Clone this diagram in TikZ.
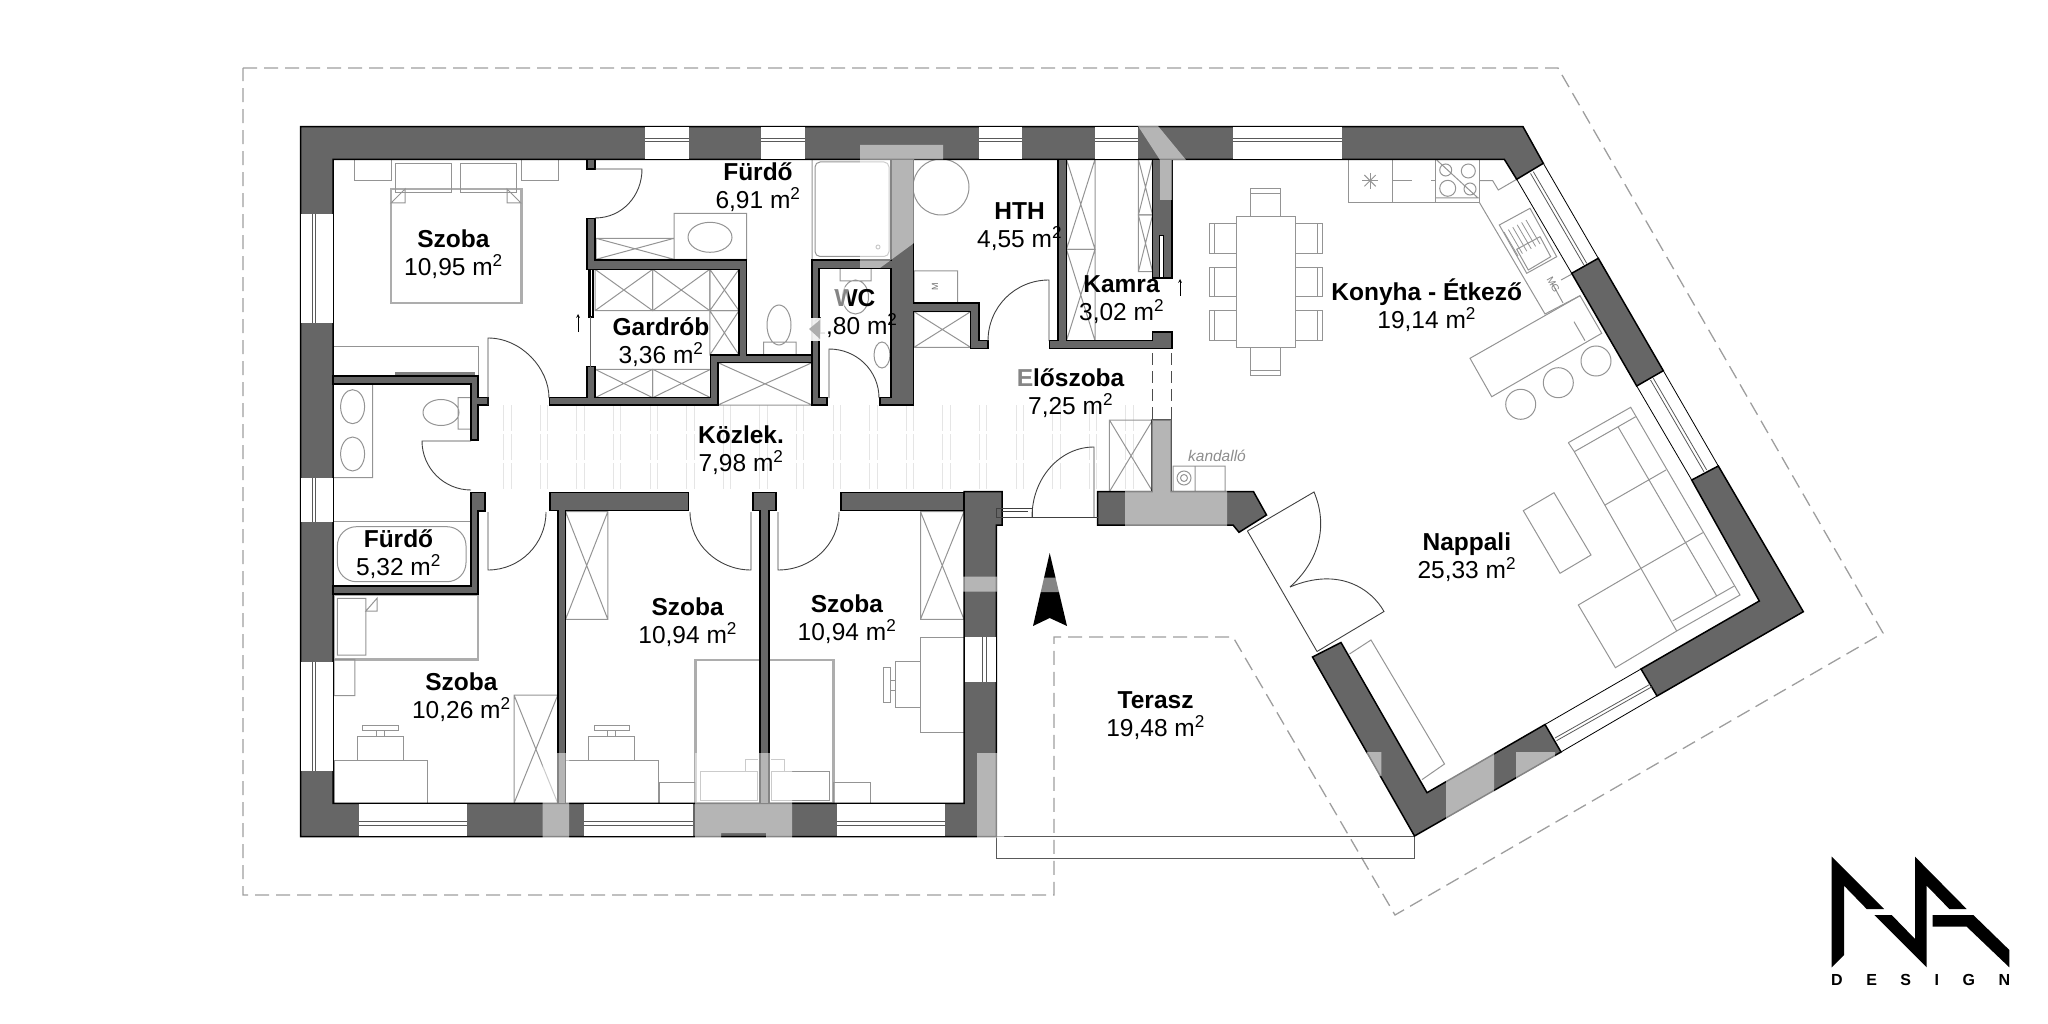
\documentclass[tikz,border=0pt]{standalone}
\usepackage{fontspec}
\setmainfont{Liberation Sans}
\newcommand{\roomtext}[2]{\textbf{#1}\\#2 m\textsuperscript{2}}
\begin{document}
\begin{tikzpicture}[x=1pt,y=-1pt,
	wall/.style={fill=black!60,draw=black,line width=1.5pt,line join=miter},
	furn/.style={draw=black!42,line width=1pt},
	bedline/.style={draw=black!32,line width=2.4pt},
	doorline/.style={draw=black!75,line width=.9pt},
	dashline/.style={draw=black!38,line width=1.3pt,dash pattern=on 14pt off 7pt},
	ghost/.style={fill=white,opacity=.52},
	roomlabel/.style={align=center,inner sep=0pt,font=\fontsize{24.5}{28}\selectfont}]
	\useasboundingbox (0,0) rectangle (2048,1024);
	% ghost bars of the corridor
	\foreach \i in {0,...,17}
		\draw[draw=black!10,line width=.9pt,dash pattern=on 26pt off 3pt] (503.7+36.6*\i,405) -- (503.7+36.6*\i,492) (511+36.6*\i,405) -- (511+36.6*\i,492);
	% outline and terrace
	\draw[dashline] (243,68) -- (1558,68) -- (1883,633) -- (1395,915) -- (1233,637) -- (1054,637) -- (1054,895) -- (243,895) -- cycle;
	\draw[draw=black!65,line width=1pt] (996,753) -- (996,858) -- (1414.5,858) -- (1414.5,836.7) -- (996,836.7);
	% bedrooms furniture
	\draw[bedline] (391,189.3) rectangle (521.6,303.3);
	\draw[furn] (395.5,163.3) rectangle (451.4,193) (460,163.3) rectangle (516.7,193) (354.7,159.3) rectangle (391,180.7) (521.6,159.3) rectangle (558.4,180.7);
	\draw[furn] (391,203) -- (405,189) -- (405,203) -- cycle (521,203) -- (507,189) -- (507,203) -- cycle;
	\draw[furn] (333,346.7) rectangle (478.8,376);
	\draw[draw=black!50,line width=3pt] (395,373) -- (475,373);
	\draw[bedline] (334,595) rectangle (478,659.3);
	\draw[furn] (337.4,598.3) rectangle (365.9,655) (365.9,611) -- (377,598.3) -- (377,611) -- cycle (334,659.3) rectangle (354.8,695.7);
	\draw[furn] (514,695) rectangle (557.8,803.3) (514,803.3) -- (557.8,695) (514,695) -- (557.8,803.3);
	\foreach \dx in {0,231.6}{
		\draw[furn] (334+\dx,760.7) rectangle (427+\dx,803.3) (357+\dx,736) rectangle (403+\dx,760.7) (362.6+\dx,725) rectangle (398+\dx,730.7) (376+\dx,730.7) rectangle (384+\dx,736);
	}
	\draw[furn] (565.6,511.7) rectangle (607.8,619.3) (565.6,619.3) -- (607.8,511.7) (565.6,511.7) -- (607.8,619.3);
	\draw[bedline] (695.5,660) rectangle (759.8,803.3) (769,660) rectangle (833.3,803.3);
	\draw[furn] (700,771.7) rectangle (757.5,800.7) (771,771.7) rectangle (829,800.7) (659.7,782.3) rectangle (695.5,803.3) (833.3,782.3) rectangle (870,803.3);
	\draw[furn] (745,771.7) -- (745,759) -- (758,759) (784,771.7) -- (784,759) -- (771,759);
	\draw[furn] (920.5,511.7) rectangle (964,619.3) (920.5,619.3) -- (964,511.7) (920.5,511.7) -- (964,619.3);
	\draw[furn] (920.5,637.7) rectangle (964,732.3) (895,661.7) rectangle (920.5,707.7) (883.8,667) rectangle (890.6,702) (890.6,680) rectangle (895,690);
	% bath furniture
	\draw[furn] (333,521) -- (470,521);
	\draw[furn,rounded corners=19pt] (337.4,526.7) rectangle (466,581.7);
	\draw[furn] (333,384) rectangle (372.7,477.7) (352.6,406.7) ellipse (12 and 17) (352.6,454) ellipse (12 and 17);
	\draw[furn] (441,412.5) ellipse (18 and 13) (458,397.7) rectangle (470.6,429);
	\draw[furn] (596,238.3) rectangle (674,259.3) (596,238.3) -- (674,259.3) (596,259.3) -- (674,238.3) (674,213.3) rectangle (746.5,259.3);
	\draw[furn] (710,237.3) ellipse (22 and 15);
	\draw[furn] (779,325) ellipse (12 and 20) (763.7,342) rectangle (796,355);
	\draw[furn,rounded corners=5pt] (815,162) rectangle (889,256.5);
	\draw[furn] (812,159.3) rectangle (892,260) (878,247) circle (2);
	\draw[furn] (840,268.5) rectangle (871,281) (855.5,297) ellipse (13 and 17);
	\draw[furn] (882,355) ellipse (8 and 13);
	% wardrobes
	\foreach \xa/\xb/\ya/\yb in {595/652.7/269.3/310.7,652.7/709.8/269.3/310.7,709.8/739/269.3/310.7,709.8/739/310.7/355,595/652.7/369.3/397.7,652.7/710.6/369.3/397.7,718/812/362.7/405,914/970.6/311.7/347.3,1066.5/1095/159.3/249.3,1066.5/1095/249.3/340.7,1138.4/1152.6/159.3/215,1138.4/1152.6/215/271.7,1109.4/1152.7/420/491.7}
		\draw[furn] (\xa,\ya) rectangle (\xb,\yb) (\xa,\ya) -- (\xb,\yb) (\xa,\yb) -- (\xb,\ya);
	% technical room
	\draw[furn] (941,187) circle (28) (914,271) rectangle (957.5,303.3);
	\node[rotate=90,text=black!55,font=\fontsize{9}{9}\selectfont,inner sep=0pt] (hthmark) at (935,287) {M};
	\draw[furn] (1173,466) rectangle (1225,491.7) (1173,466) rectangle (1195,491.7) (1184,478) circle (7) (1184,478) circle (3.5);
	\node[text=black!45,font=\itshape\fontsize{15.5}{16}\selectfont,inner sep=0pt] (fireplace) at (1217,456) {kandalló};
	% dining table
	\draw[furn] (1236.3,216.7) rectangle (1295,347.3) (1250,189) rectangle (1280,216.7) (1250,194) -- (1280,194) (1250,347.3) rectangle (1280,375) (1250,370) -- (1280,370);
	\foreach \ya in {224,267.3,310.7}{
		\draw[furn] (1209.4,\ya) rectangle (1236.3,\ya+29.3) (1214,\ya) -- (1214,\ya+29.3) (1295,\ya) rectangle (1322,\ya+29.3) (1317.5,\ya) -- (1317.5,\ya+29.3);
	}
	% kitchen
	\draw[furn] (1348.3,160) rectangle (1479.3,202.3) (1392.3,160) -- (1392.3,202.3) (1435.7,160) -- (1435.7,202.3) (1392,180.7) -- (1412,180.7) (1431,180.7) -- (1436,180.7);
	\foreach \a in {0,45,90,135}
		\draw[furn] (1370,180.7) ++(\a:8) -- ++(\a+180:16);
	\draw[furn] (1445.7,170) circle (6) (1468.3,171) circle (7) (1447.7,188.3) circle (8) (1470,189) circle (6) (1436.7,160) -- (1478,198) (1436,198) -- (1479,198);
	\draw[furn] (1479.3,180.7) -- (1492.7,180.7) -- (1498.3,190) -- (1516.7,179.3);
	\draw[furn] (1479.3,202.3) -- (1545,314) -- (1580,295.7);
	\draw[furn] (1499.3,225) -- (1530,208.3) -- (1556.7,256.7) -- (1526.7,273.3) -- cycle (1516.7,249.3) -- (1540,236.7) -- (1550.7,256.7) -- (1528.3,270) -- cycle;
	\foreach \t in {0,1,...,5}
		\draw[draw=black!42,line width=.8pt] (1504+4.4*\t,232-2.4*\t) -- (1518+4.4*\t,256-2.4*\t);
	\draw[furn] (1561,280) -- (1572,274) (1563,303) -- (1552,283);
	\node[rotate=-60,text=black!50,font=\fontsize{10}{10}\selectfont,inner sep=0pt] (fridgemark) at (1553.3,285) {MG};
	\draw[furn] (1470,358.3) -- (1580,295.7) -- (1601.7,333.3) -- (1491.7,396.7) -- cycle (1574,321.7) -- (1585,340.7);
	\draw[furn] (1596,361) circle (15) (1558.3,382.7) circle (15) (1520.7,404.3) circle (15);
	% living room
	\draw[furn] (1568.3,442.7) -- (1630.7,407.3) -- (1740,595) -- (1676.7,631) -- (1615.4,667.7) -- (1578.3,605) -- (1641,568.3) -- (1702.7,532.7);
	\draw[furn] (1568.3,442.7) -- (1574.3,451.7) -- (1635.7,416.7) (1574.3,451.7) -- (1676.7,631) (1672.7,621) -- (1734.3,586) (1618.3,427.3) -- (1716.7,596) (1605,505) -- (1666,470);
	\draw[furn] (1523.3,510.7) -- (1554,492.7) -- (1591,555) -- (1560,573.3) -- cycle;
	\draw[furn] (1349.5,654) -- (1371,640) -- (1444.5,764) -- (1422,779.6);
	% outer walls
	\draw[wall] (300.5,126.7) -- (1523,126.7) -- (1543.3,163.3) -- (1516.7,179.3) -- (1504.3,159.3) -- (333,159.3) -- (333,803.3) -- (964,803.3) -- (964,491.7) -- (1002,491.7) -- (1002,525) -- (996.3,525) -- (996.3,836.7) -- (300.5,836.7) -- cycle;
	\draw[wall] (1598.3,258.3) -- (1663.3,370.7) -- (1636.7,386) -- (1571.7,273.3) -- cycle;
	\draw[wall] (1718.3,466) -- (1803.3,611.7) -- (1657,696) -- (1641,669) -- (1759.3,601) -- (1691.7,480) -- cycle;
	\draw[wall] (1561,752) -- (1414.5,836) -- (1312.5,657) -- (1341,642.5) -- (1427,792.7) -- (1545,724.5) -- cycle;
	% windows
	\foreach \xa/\xb in {644.5/689,761/804.5,979/1022,1095/1138,1233/1341.7}{
		\fill[white] (\xa,126) rectangle (\xb,160);
		\draw[line width=.8pt] (\xa,126.7) -- (\xb,126.7) (\xa,159.3) -- (\xb,159.3);
		\draw[draw=black!65,line width=.8pt] (\xa,138) -- (\xb,138) (\xa,141) -- (\xb,141);
	}
	\foreach \xa/\xb in {359/467,584.4/693,836.5/945}{
		\fill[white] (\xa,803) rectangle (\xb,837.4);
		\draw[line width=.8pt] (\xa,803.3) -- (\xb,803.3) (\xa,836.7) -- (\xb,836.7);
		\draw[draw=black!65,line width=.8pt] (\xa,821.5) -- (\xb,821.5) (\xa,825) -- (\xb,825);
	}
	\foreach \ya/\yb in {214.3/322.7,478/521.7,661.7/770.7}{
		\fill[white] (300,\ya) rectangle (333.6,\yb);
		\draw[line width=.8pt] (300.5,\ya) -- (300.5,\yb) (333,\ya) -- (333,\yb);
		\draw[draw=black!65,line width=.8pt] (312,\ya) -- (312,\yb) (315,\ya) -- (315,\yb);
	}
	\fill[white] (963.5,636.7) rectangle (997,681.7);
	\draw[line width=.8pt] (964,636.7) -- (964,681.7) (996.3,636.7) -- (996.3,681.7);
	\draw[draw=black!65,line width=.8pt] (982.5,636.7) -- (982.5,681.7) (986,636.7) -- (986,681.7);
	\draw[line width=.8pt] (1543.3,163.3) -- (1598.3,258.3) (1516.7,179.3) -- (1571.7,273.3) (1663.3,370.7) -- (1718.3,466) (1636.7,386) -- (1691.7,480) (1657,696) -- (1561,752) (1641,669) -- (1545,724.5);
	\draw[draw=black!65,line width=.8pt] (1533.3,171.7) -- (1586.7,263.3) (1530.5,173.4) -- (1583.9,265) (1653.3,378.3) -- (1706.7,470) (1650.5,380) -- (1703.9,471.7) (1650.5,684) -- (1555,738) (1652,686.7) -- (1556.5,740.7);
	% inner walls
	\draw[wall] (333,376) -- (478,376) -- (478,397.7) -- (488,397.7) -- (488,405) -- (478,405) -- (478,440) -- (471,440) -- (471,384) -- (333,384) -- cycle;
	\draw[wall] (471,492.3) -- (485,492.3) -- (485,511) -- (478,511) -- (478,594) -- (333,594) -- (333,586) -- (471,586) -- cycle;
	\draw[wall] (587,159.3) -- (595,159.3) -- (595,169) -- (587,169) -- cycle;
	\draw[wall] (587,218.3) -- (595,218.3) -- (595,260) -- (746.5,260) -- (746.5,355) -- (812,355) -- (812,362.7) -- (718,362.7) -- (718,405) -- (549.4,405) -- (549.4,397.7) -- (587,397.7) -- (587,366.7) -- (595,366.7) -- (595,397.7) -- (710.6,397.7) -- (710.6,355) -- (739,355) -- (739,269.3) -- (587,269.3) -- cycle;
	\draw[wall] (891,159.3) -- (913.5,159.3) -- (913.5,303) -- (979,303) -- (979,340.7) -- (988,340.7) -- (988,348.3) -- (970.6,348.3) -- (970.6,311.7) -- (913.5,311.7) -- (913.5,405) -- (880,405) -- (880,397.7) -- (891,397.7) -- (891,268.3) -- (819,268.3) -- (819,397.7) -- (827,397.7) -- (827,405) -- (812,405) -- (812,260) -- (891,260) -- cycle;
	\draw[wall] (1058,159.3) -- (1066.5,159.3) -- (1066.5,340.7) -- (1152.6,340.7) -- (1152.6,332) -- (1171.8,332) -- (1171.8,348.3) -- (1049.4,348.3) -- (1049.4,340.7) -- (1058,340.7) -- cycle;
	\draw[wall] (1152.6,159.3) rectangle (1171.8,278);
	\draw[draw=black,fill=white,line width=.7pt] (1159.6,235) rectangle (1163.7,277);
	\draw[wall] (1152,420) -- (1171,420) -- (1171,491.7) -- (1253.5,491.7) -- (1266.5,515) -- (1239,532.3) -- (1233,525) -- (1097.5,525) -- (1097.5,491.7) -- (1152,491.7) -- cycle;
	\draw[wall] (550,492.3) -- (688.6,492.3) -- (688.6,510.7) -- (565.6,510.7) -- (565.6,803.3) -- (557.8,803.3) -- (557.8,510.7) -- (550,510.7) -- cycle;
	\draw[wall] (753,492.3) -- (776,492.3) -- (776,510.7) -- (769,510.7) -- (769,803.3) -- (759.8,803.3) -- (759.8,510.7) -- (753,510.7) -- cycle;
	\draw[wall] (841,492.3) rectangle (964,510.7);
	% sliding doors
	\draw[fill=black,draw=black,line width=.5pt] (588.5,269.3) rectangle (593.5,317);
	\draw[draw=white,line width=.8pt] (591,270) -- (591,316);
	\draw[draw=black!60,line width=.8pt] (590.5,317) -- (590.5,366.7);
	\draw[draw=black!70,dash pattern=on 12pt off 6pt,line width=.9pt] (1152.6,353) -- (1152.6,420) (1171.4,353) -- (1171.4,420);
	\draw[->,>=stealth,line width=.7pt] (578,332) -- (578,314);
	\draw[->,>=stealth,line width=.7pt] (1180,296) -- (1180,279);
	% doors
	\draw[doorline] (595,169) -- (642,169) .. controls (642,196) and (622,218) .. (595,218);
	\draw[doorline] (488,405) -- (488,338) .. controls (521,338) and (549,368) .. (549,398);
	\draw[doorline] (471,441) -- (422,441) .. controls (422,468) and (444,490) .. (471,490);
	\draw[doorline] (488,512) -- (488,570) .. controls (520,570) and (546,544) .. (546,512);
	\draw[doorline] (751,512) -- (751,570) .. controls (718,570) and (690,544) .. (690,512);
	\draw[doorline] (778,512) -- (778,570) .. controls (812,570) and (839,544) .. (839,512);
	\draw[doorline] (829,398) -- (829,349) .. controls (857,349) and (879,371) .. (879,398);
	\draw[doorline] (1049,341) -- (1049,280) .. controls (1015,280) and (988,307) .. (988,341);
	\draw[doorline] (1094,517) -- (1094,447) .. controls (1060,447) and (1032,478) .. (1032,517);
	\draw[doorline] (996,508) rectangle (1032,517) (1032,517) -- (1097.5,517) (1002,511) -- (1028,511);
	\draw[doorline] (1247.4,531) -- (1314,492) .. controls (1328,525) and (1320,560) .. (1290,587);
	\draw[doorline] (1317,651.5) -- (1384,611.5) .. controls (1372,590) and (1340,566) .. (1290,587);
	\draw[doorline] (1247.4,531) -- (1317,651.5);
	% north arrow
	\fill[black] (1049.7,553) -- (1067,626) -- (1049.7,618) -- (1033,626) -- cycle;
	% room labels
	\node[roomlabel] (bedroomA) at (453.5,254) {\roomtext{Szoba}{10,95}};
	\node[roomlabel] (bathA) at (758,187.5) {\roomtext{Fürdő}{6,91}};
	\node[roomlabel] (wardrobe) at (661,342) {\roomtext{Gardrób}{3,36}};
	\node[roomlabel] (toilet) at (855,314) {\roomtext{WC}{1,80}};
	\node[roomlabel] (bathB) at (398.5,554) {\roomtext{Fürdő}{5,32}};
	\node[roomlabel] (bedroomB) at (461.4,697) {\roomtext{Szoba}{10,26}};
	\node[roomlabel] (bedroomC) at (687.7,622.5) {\roomtext{Szoba}{10,94}};
	\node[roomlabel] (bedroomD) at (847,619) {\roomtext{Szoba}{10,94}};
	\node[roomlabel] (corridor) at (741,450) {\roomtext{Közlek.}{7,98}};
	\node[roomlabel] (technical) at (1019.6,227) {\roomtext{HTH}{4,55}};
	\node[roomlabel] (pantry) at (1121.6,300) {\roomtext{Kamra}{3,02}};
	\node[roomlabel] (hall) at (1070.6,393) {\roomtext{Előszoba}{7,25}};
	\node[roomlabel] (kitchen) at (1426.7,305.5) {\roomtext{Konyha - Étkező}{19,14}};
	\node[roomlabel] (living) at (1466.8,557) {\roomtext{Nappali}{25,33}};
	\node[roomlabel] (terrace) at (1155.6,716) {\roomtext{Terasz}{19,48}};
	% watermark over everything
	\fill[ghost] (860,145) -- (943,145) -- (943,159.3) -- (914,159.3) -- (914,243) -- (880,268) -- (860,268) -- cycle;
	\fill[ghost] (1138,126) -- (1158,126) -- (1186,160) -- (1172,160) -- (1172,200) -- (1160,200) -- (1160,160) -- cycle;
	\fill[ghost] (1152,420) -- (1171.5,420) -- (1171.5,491) -- (1227,491) -- (1227,526) -- (1125,526) -- (1125,491) -- (1152,491) -- cycle;
	\fill[ghost] (963,576.7) rectangle (997,591.7) (977,753) rectangle (1004,838);
	\fill[ghost] (542.6,753) rectangle (569,838) (695,753) rectangle (792,833) (695,833) rectangle (721,838) (766,833) rectangle (792,838);
	\fill[ghost] (1366.7,752) rectangle (1381.4,776) (1446,752) rectangle (1494,842) (1516,752) rectangle (1555,786) (1033,577.5) rectangle (1067,592);
	\fill[ghost] (1016.7,366) rectangle (1032,391) (835,287) rectangle (848,306);
	\fill[white,opacity=.9] (809,318) rectangle (826.5,341);
	\fill[black!32] (809,329) -- (820,320) -- (820,339) -- cycle;
	% logo
	\begin{scope}[shift={(1810,840)},scale=1/3]
		\fill[black] (65,50) -- (222,207) -- (170,207) -- (102,137) -- (102,345) -- (65,382) -- cycle;
		\fill[black] (193,225) -- (245,225) -- (315,297) -- (315,50) -- (470,207) -- (418,207) -- (350,137) -- (350,382) -- cycle;
		\fill[black] (368,225) -- (490,225) -- (598,330) -- (598,382) -- (470,260) -- (368,260) -- cycle;
	\end{scope}
	\node[font=\bfseries\fontsize{16}{16}\selectfont\addfontfeature{LetterSpace=147},inner sep=0pt,anchor=west] (logotext) at (1831,980) {DESIGN};
\end{tikzpicture}
\end{document}
